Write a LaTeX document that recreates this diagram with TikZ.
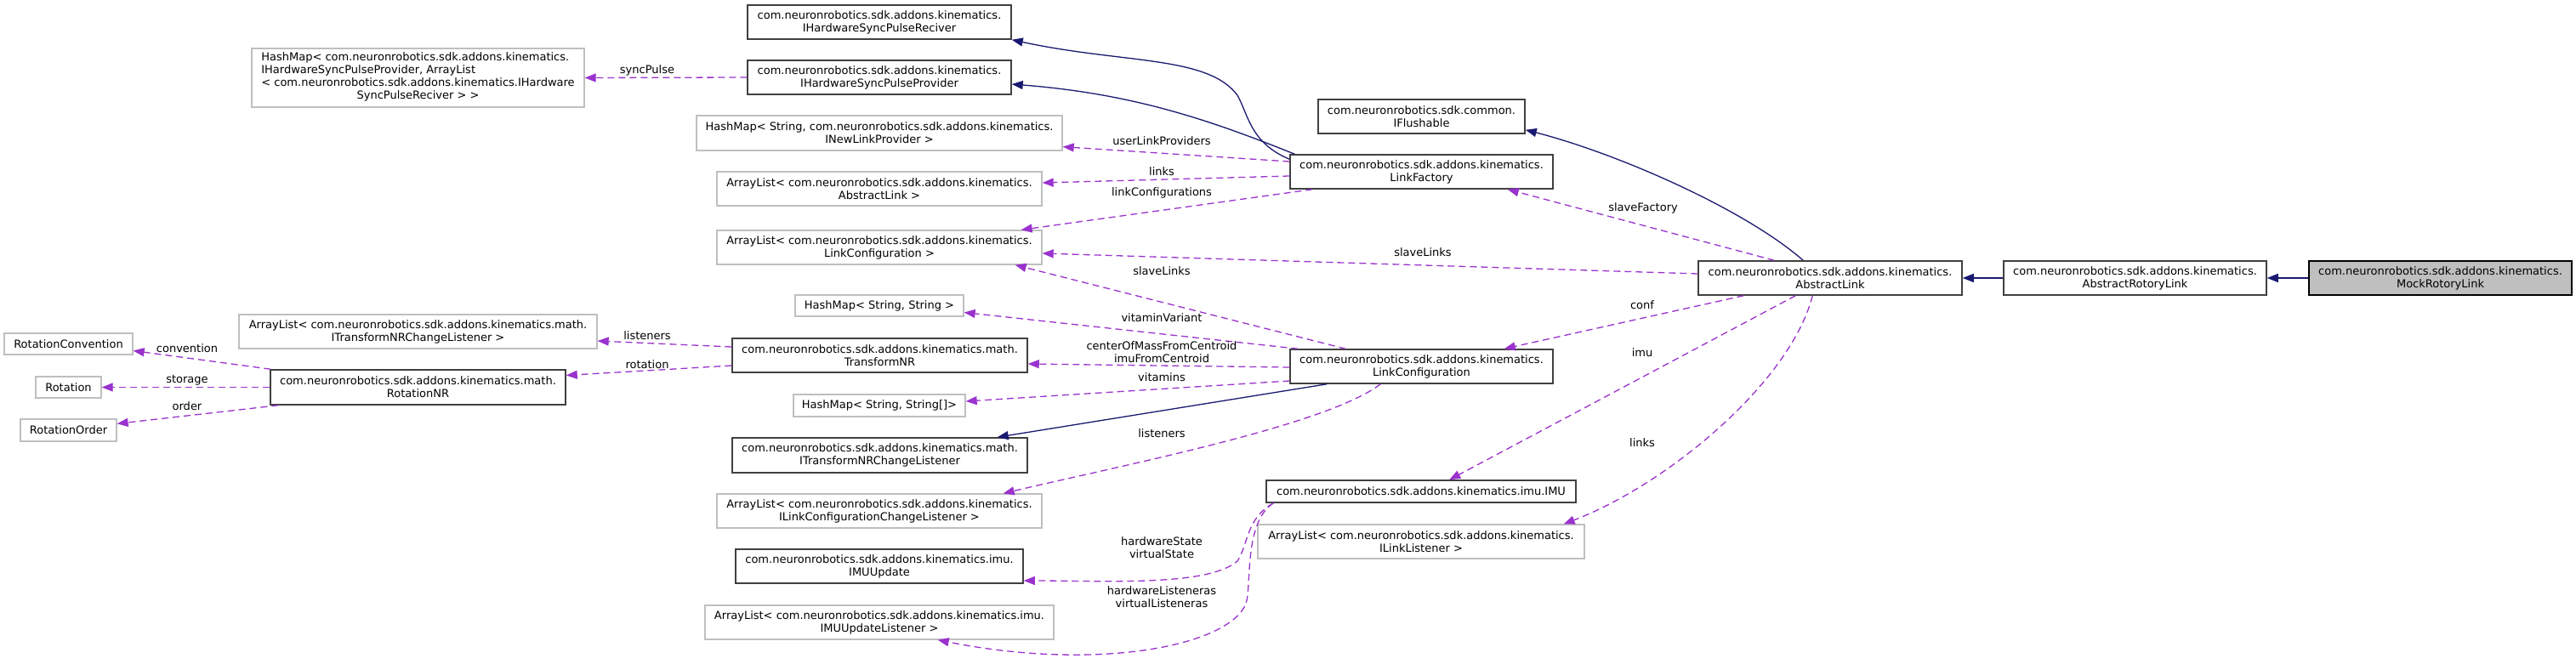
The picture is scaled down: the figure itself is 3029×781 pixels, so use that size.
\documentclass[tikz,border=0pt]{standalone}
\usepackage{fontspec}
\setmainfont{DejaVu Sans}
\usetikzlibrary{arrows.meta,calc}

\definecolor{inhblue}{HTML}{191970}
\definecolor{useorchid}{HTML}{9A32CD}
\definecolor{extgrey}{HTML}{BFBFBF}
\definecolor{clsdark}{HTML}{404040}

\newcommand{\nrkin}{com.neuronrobotics.sdk.addons.kinematics.}

\tikzset{every picture/.style={line width=1.3pt},
  sz/.style 2 args={minimum width=#1pt,minimum height=#2pt},
  clsbox/.style={draw=clsdark,line width=1.5pt,fill=white,inner sep=0pt,align=center,font=\fontsize{13}{15}\selectfont},
  extbox/.style={draw=extgrey,line width=1.3pt,fill=white,inner sep=0pt,align=center,font=\fontsize{13}{15}\selectfont},
  focusbox/.style={clsbox,draw=black,fill=extgrey},
  edgelbl/.style={inner sep=0pt,align=center,font=\fontsize{13}{15}\selectfont},
  inherit/.style={draw=inhblue,line width=1.3pt,-{Triangle[length=13pt,width=10pt]}},
  usage/.style={draw=useorchid,line width=1.3pt,dash pattern=on 8pt off 5pt,-{Triangle[length=13pt,width=10pt]}}}

\begin{document}
\begin{tikzpicture}[x=1pt,y=1pt,yscale=-1,xscale=1]
\useasboundingbox (0,0) rectangle (3029,781);

% Class Nodes, right column
\node[focusbox,sz={309}{40}] (mockLink) at (2869.5,327) {\nrkin\\MockRotoryLink};
\node[clsbox,sz={309}{40}] (absRot) at (2510.5,327) {\nrkin\\AbstractRotoryLink};
\node[clsbox,sz={310}{40}] (absLink) at (2152,327) {\nrkin\\AbstractLink};

% Class Nodes, middle column
\node[clsbox,sz={243}{40}] (flushIface) at (1671.5,137) {com.neuronrobotics.sdk.common.\\IFlushable};
\node[clsbox,sz={309}{40}] (linkFac) at (1671.5,202) {\nrkin\\LinkFactory};
\node[clsbox,sz={309}{40}] (linkConf) at (1671.5,431) {\nrkin\\LinkConfiguration};
\node[clsbox,sz={364}{26}] (imuCls) at (1671,578) {\nrkin imu.IMU};
\node[extbox,sz={384}{40}] (alLinkLis) at (1671,637) {ArrayList< \nrkin\\ILinkListener >};

% Class Nodes, left column
\node[clsbox,sz={310}{40}] (rcvIface) at (1034,26) {\nrkin\\IHardwareSyncPulseReciver};
\node[clsbox,sz={310}{40}] (prvIface) at (1034,91) {\nrkin\\IHardwareSyncPulseProvider};
\node[extbox,sz={430}{41}] (hmNewLink) at (1034,156.5) {HashMap< String, \nrkin\\INewLinkProvider >};
\node[extbox,sz={382}{40}] (alAbsLink) at (1034,222) {ArrayList< \nrkin\\AbstractLink >};
\node[extbox,sz={382}{40}] (alLinkConf) at (1034,291) {ArrayList< \nrkin\\LinkConfiguration >};
\node[extbox,sz={198}{25}] (hmStrStr) at (1034,359.5) {HashMap< String, String >};
\node[clsbox,sz={347}{40}] (transNR) at (1034.5,418) {\nrkin math.\\TransformNR};
\node[extbox,sz={202}{26}] (hmStrArr) at (1034,477) {HashMap< String, String[]>};
\node[clsbox,sz={347}{41}] (iTransLis) at (1034.5,535.5) {\nrkin math.\\ITransformNRChangeListener};
\node[extbox,sz={382}{40}] (alConfLis) at (1034,601) {ArrayList< \nrkin\\ILinkConfigurationChangeListener >};
\node[clsbox,sz={338}{40}] (imuUpd) at (1034,666) {\nrkin imu.\\IMUUpdate};
\node[extbox,sz={410}{40}] (alImuLis) at (1034,732) {ArrayList< \nrkin imu.\\IMUUpdateListener >};

% Class Nodes, far left
\node[extbox,sz={391}{69}] (hmSync) at (491.5,91.5) {\begin{tabular}{@{}l@{}}HashMap< \nrkin\\IHardwareSyncPulseProvider, ArrayList\\< \nrkin IHardware\\\multicolumn{1}{@{}c@{}}{SyncPulseReciver > >}\end{tabular}};
\node[extbox,sz={421}{40}] (alTransLis) at (491.5,390) {ArrayList< \nrkin math.\\ITransformNRChangeListener >};
\node[clsbox,sz={347}{41}] (rotNR) at (491.5,455.5) {\nrkin math.\\RotationNR};
\node[extbox,sz={151}{25}] (rotConv) at (80.5,404.5) {RotationConvention};
\node[extbox,sz={77}{25}] (rotCls) at (80.5,455.5) {Rotation};
\node[extbox,sz={113}{26}] (rotOrd) at (80.5,506) {RotationOrder};

% Inheritance Edges
\draw[inherit] (mockLink.west) -- (absRot.east);
\draw[inherit] (absRot.west) -- (absLink.east);
\draw[inherit] ($(absLink.north west)+(124,0)$) .. controls (2050,245) and (1900,180) .. ($(flushIface.south east)+(0,-5)$);
\draw[inherit] ($(linkFac.north west)+(0,6)$) .. controls (1470,168) and (1468,135) .. (1455,112) .. controls (1420,65) and (1320,75) .. (rcvIface.south east);
\draw[inherit] ($(linkFac.north west)+(6,0)$) .. controls (1420,140) and (1330,110) .. ($(prvIface.east)+(0,8)$);
\draw[inherit] ($(linkConf.south west)+(44,0)$) -- ($(iTransLis.north east)+(-36,0)$);

% Usage Edges
\draw[usage] (prvIface.west) -- (hmSync.east);
\draw[usage] ($(linkFac.west)+(0,-12)$) -- ($(hmNewLink.south east)+(0,-5)$);
\draw[usage] ($(linkFac.west)+(0,5)$) -- ($(alAbsLink.east)+(0,-7)$);
\draw[usage] ($(linkFac.south west)+(27,0)$) -- ($(alLinkConf.north east)+(-25,0)$);
\draw[usage] ($(absLink.north west)+(90,0)$) -- ($(linkFac.south east)+(-54,0)$);
\draw[usage] ($(absLink.west)+(0,-5)$) -- ($(alLinkConf.east)+(0,7)$);
\draw[usage] ($(linkConf.north west)+(66,0)$) -- ($(alLinkConf.south east)+(-32,0)$);
\draw[usage] ($(linkConf.north west)+(10,0)$) -- ($(hmStrStr.east)+(0,8)$);
\draw[usage] ($(absLink.south west)+(54,0)$) -- ($(linkConf.north east)+(-58,0)$);
\draw[usage] ($(linkConf.west)+(0,1)$) -- ($(transNR.east)+(0,10)$);
\draw[usage] ($(linkConf.west)+(0,17)$) -- ($(hmStrArr.east)+(0,-5)$);
\draw[usage] ($(linkConf.south west)+(107,0)$) .. controls (1560,500) and (1330,545) .. ($(alConfLis.north east)+(-46,0)$);
\draw[usage] ($(absLink.south west)+(115,0)$) -- ($(imuCls.north west)+(216,0)$);
\draw[usage] ($(absLink.south west)+(135,0)$) .. controls (2105,450) and (1960,570) .. ($(alLinkLis.north east)+(-25,0)$);
\draw[usage] ($(imuCls.south west)+(9,0)$) .. controls (1465,610) and (1468,640) .. (1455,660) .. controls (1420,690) and (1300,683) .. ($(imuUpd.east)+(0,17)$);
\draw[usage] ($(imuCls.south west)+(9,0)$) .. controls (1462,615) and (1472,690) .. (1465,710) .. controls (1445,760) and (1290,790) .. ($(alImuLis.south east)+(-137,0)$);
\draw[usage] ($(transNR.west)+(0,-10)$) -- ($(alTransLis.east)+(0,11)$);
\draw[usage] ($(transNR.west)+(0,12)$) -- ($(rotNR.east)+(0,-14)$);
\draw[usage] ($(rotNR.north west)+(1,0)$) -- ($(rotConv.east)+(0,8)$);
\draw[usage] (rotNR.west) -- (rotCls.east);
\draw[usage] ($(rotNR.south west)+(10,0)$) -- ($(rotOrd.north east)+(0,6)$);

% Edge Labels
\node[edgelbl] (lblSync) at (761,83) {syncPulse};
\node[edgelbl] (lblUserLink) at (1366,166) {userLinkProviders};
\node[edgelbl] (lblLinksA) at (1366,202) {links};
\node[edgelbl] (lblLinkConfs) at (1366,227) {linkConfigurations};
\node[edgelbl] (lblSlaveA) at (1673,297) {slaveLinks};
\node[edgelbl] (lblSlaveB) at (1366,319) {slaveLinks};
\node[edgelbl] (lblVitVar) at (1366,374) {vitaminVariant};
\node[edgelbl] (lblCentroid) at (1366,414.5) {centerOfMassFromCentroid\\imuFromCentroid};
\node[edgelbl] (lblVit) at (1366,444) {vitamins};
\node[edgelbl] (lblLisA) at (1366,510) {listeners};
\node[edgelbl] (lblState) at (1366,644) {hardwareState\\virtualState};
\node[edgelbl] (lblListen) at (1366,702) {hardwareListeneras\\virtualListeneras};
\node[edgelbl] (lblSlaveFac) at (1932,245) {slaveFactory};
\node[edgelbl] (lblConf) at (1931,359) {conf};
\node[edgelbl] (lblImu) at (1931,415) {imu};
\node[edgelbl] (lblLinksB) at (1931,521) {links};
\node[edgelbl] (lblLisB) at (761,395) {listeners};
\node[edgelbl] (lblRot) at (761,429) {rotation};
\node[edgelbl] (lblConv) at (220,410) {convention};
\node[edgelbl] (lblStor) at (220,447) {storage};
\node[edgelbl] (lblOrd) at (220,478) {order};

\end{tikzpicture}
\end{document}
